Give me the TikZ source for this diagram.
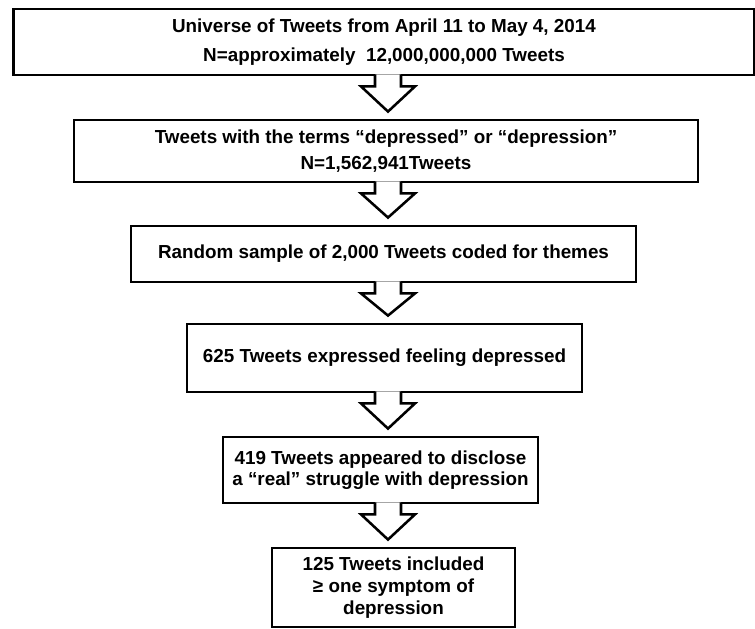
\documentclass[tikz,border=0pt]{standalone}
\usepackage{fontspec}
\setmainfont{Liberation Sans}
\usetikzlibrary{calc}

% hollow block arrow from the bottom of one box to the top of the next
\newcommand{\flowarrow}[2]{%
  \path (axis |- #1.south) coordinate (top) (axis |- #2.north) coordinate (tip);
  \filldraw[hollow] ($(top)+(-13,-2)$) -- ($(top)+(-13,10)$) -- ($(top)+(-27,10)$)
    -- ($(tip)+(0,-7)$) -- ($(top)+(27,10)$) -- ($(top)+(13,10)$) -- ($(top)+(13,-2)$);
}

\begin{document}
\begin{tikzpicture}[
    x=0.025cm, y=-0.025cm,
    box/.style={draw, line width=2pt, fill=white, align=center, inner sep=0pt,
                font=\bfseries\fontsize{13.4}{15.8}\selectfont},
    hollow/.style={draw, fill=white, line width=1.8pt, miter limit=20}
]
    \useasboundingbox (0,0) rectangle (755,629);
    \coordinate (axis) at (388,0);

    % Selection steps
    \node[box, minimum width=18.5cm, minimum height=1.65cm,
          font=\bfseries\fontsize{13.4}{20.6}\selectfont] (universe) at (384,42)
        {Universe of Tweets from April 11 to May 4, 2014\\N=approximately\ \ 12,000,000,000 Tweets};
    \node[box, minimum width=15.6cm, minimum height=1.55cm,
          font=\bfseries\fontsize{13.4}{18.4}\selectfont] (terms) at (386,151)
        {Tweets with the terms “depressed” or “depression”\\N=1,562,941Tweets};
    \node[box, minimum width=12.625cm, minimum height=1.4cm] (sample) at (383.5,254)
        {Random sample of 2,000 Tweets coded for themes};
    \node[box, minimum width=9.875cm, minimum height=1.7cm] (feeling) at (384.5,358)
        {625 Tweets expressed feeling depressed};
    \node[box, minimum width=7.875cm, minimum height=1.65cm,
          font=\bfseries\fontsize{13.4}{15}\selectfont] (real) at (380.5,470)
        {419 Tweets appeared to disclose\\a “real” struggle with depression};
    \node[box, minimum width=6.075cm, minimum height=1.975cm] (symptom) at (393.5,587.5)
        {125 Tweets included\\≥ one symptom of\\depression};

    % Arrows
    \flowarrow{universe}{terms}
    \flowarrow{terms}{sample}
    \flowarrow{sample}{feeling}
    \flowarrow{feeling}{real}
    \flowarrow{real}{symptom}
\end{tikzpicture}
\end{document}
